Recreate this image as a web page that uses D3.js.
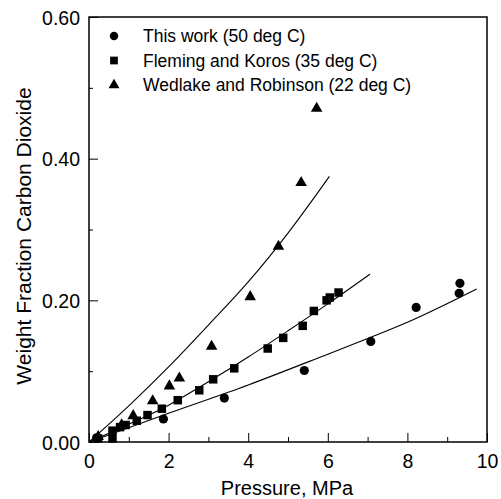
<!DOCTYPE html>
<html>
<head>
<meta charset="utf-8">
<script src="https://cdn.jsdelivr.net/npm/d3@7"></script>
<style>
  body { margin: 0; background: #fff; }
  text { font-family: "Liberation Sans", Arial, sans-serif; fill: #000; }
</style>
</head>
<body>
<div id="chart"></div>
<script>
// measured points, [pressure MPa, weight fraction]
const thisWork = [[0.19, 0.006], [1.87, 0.0325], [3.40, 0.062], [5.41, 0.101], [7.08, 0.142],
  [8.22, 0.190], [9.30, 0.210], [9.32, 0.224]];
const flemingKoros = [[0.23, 0.005], [0.59, 0.005], [0.59, 0.016], [0.78, 0.021], [0.92, 0.024],
  [1.20, 0.030], [1.47, 0.038], [1.83, 0.047], [2.23, 0.059], [2.77, 0.073], [3.12, 0.0885],
  [3.65, 0.104], [4.49, 0.132], [4.88, 0.147], [5.37, 0.164], [5.65, 0.185], [5.97, 0.200],
  [6.05, 0.204], [6.27, 0.211]];
const wedlakeRobinson = [[0.23, 0.0075], [0.82, 0.024], [1.11, 0.037], [1.60, 0.058], [2.02, 0.079],
  [2.27, 0.090], [3.08, 0.135], [4.05, 0.205], [4.76, 0.276], [5.33, 0.366], [5.72, 0.471]];

// fitted curves
const fitThisWork = [[0, 0], [2, 0.0405], [4, 0.0805], [6, 0.124], [7, 0.146], [8, 0.169], [9.74, 0.216]];
const fitFleming = [[0, 0], [1, 0.025], [2, 0.052], [3, 0.085], [4, 0.12], [5, 0.157], [6, 0.195], [7.06, 0.237]];
const fitWedlake = [[0, 0], [1, 0.051], [2, 0.106], [3, 0.165], [4, 0.226], [5, 0.295], [6.04, 0.375]];

const legendLabels = ["This work (50 deg C)", "Fleming and Koros (35 deg C)", "Wedlake and Robinson (22 deg C)"];
const xMajor = [0, 2, 4, 6, 8, 10];
const xMinor = [1, 3, 5, 7, 9];
const yMajor = [0, 0.2, 0.4, 0.6];
const yMinor = [0.1, 0.3, 0.5];

const width = 501, height = 499;
const margin = {top: 17, right: 14, bottom: 57, left: 89};

const svg = d3.select("#chart").append("svg")
    .attr("width", width)
    .attr("height", height);

const xScale = d3.scaleLinear().domain([0, 10]).range([margin.left, width - margin.right]);
const yScale = d3.scaleLinear().domain([0, 0.6]).range([height - margin.bottom, margin.top]);

// frame
svg.append("rect")
    .attr("x", xScale(0))
    .attr("y", yScale(0.6))
    .attr("width", xScale(10) - xScale(0))
    .attr("height", yScale(0) - yScale(0.6))
    .attr("fill", "none")
    .attr("stroke", "#000")
    .attr("stroke-width", 1.5);

// axes with inward ticks
const xAxis = svg.append("g")
    .attr("transform", "translate(0," + yScale(0) + ")")
    .call(d3.axisBottom(xScale).tickValues(xMajor).tickSize(-9).tickPadding(12).tickFormat(d3.format("d")));
xAxis.select(".domain").remove();

svg.append("g")
    .attr("transform", "translate(0," + yScale(0) + ")")
    .call(d3.axisBottom(xScale).tickValues(xMinor).tickSize(-5).tickFormat(""))
    .select(".domain").remove();

const yAxis = svg.append("g")
    .attr("transform", "translate(" + xScale(0) + ",0)")
    .call(d3.axisLeft(yScale).tickValues(yMajor).tickSize(-9).tickPadding(9).tickFormat(d3.format(".2f")));
yAxis.select(".domain").remove();

svg.append("g")
    .attr("transform", "translate(" + xScale(0) + ",0)")
    .call(d3.axisLeft(yScale).tickValues(yMinor).tickSize(-4).tickFormat(""))
    .select(".domain").remove();

svg.selectAll(".tick text").attr("font-size", 19.5);
svg.selectAll(".tick line").attr("stroke", "#000").attr("stroke-width", 1);
xAxis.selectAll(".tick text").attr("dy", "0.71em");
yAxis.selectAll(".tick text").attr("dy", "0.36em");

// axis titles
svg.append("text")
    .attr("x", 287)
    .attr("y", 495)
    .attr("text-anchor", "middle")
    .attr("font-size", 20)
    .text("Pressure, MPa");

svg.append("text")
    .attr("transform", "translate(31,236) rotate(-90)")
    .attr("text-anchor", "middle")
    .attr("font-size", 21)
    .text("Weight Fraction Carbon Dioxide");

// fitted curves
const line = d3.line()
    .x(d => xScale(d[0]))
    .y(d => yScale(d[1]))
    .curve(d3.curveMonotoneX);

[fitThisWork, fitFleming, fitWedlake].forEach(fit => {
    svg.append("path")
        .attr("d", line(fit))
        .attr("fill", "none")
        .attr("stroke", "#000")
        .attr("stroke-width", 1.1);
});

// markers
const symCircle = d3.symbol().type(d3.symbolCircle).size(66);
const symSquare = d3.symbol().type(d3.symbolSquare).size(72);
const symTriangle = d3.symbol().type(d3.symbolTriangle).size(58);

function drawPoints(data, sym) {
    svg.append("g")
        .selectAll("path")
        .data(data)
        .enter()
        .append("path")
            .attr("transform", d => "translate(" + xScale(d[0]) + "," + yScale(d[1]) + ")")
            .attr("d", sym)
            .attr("fill", "#000");
}
drawPoints(thisWork, symCircle);
drawPoints(flemingKoros, symSquare);
drawPoints(wedlakeRobinson, symTriangle);

// legend
const legendSyms = [
    d3.symbol().type(d3.symbolCircle).size(56),
    d3.symbol().type(d3.symbolSquare).size(60),
    d3.symbol().type(d3.symbolTriangle).size(52)
];
const legend = svg.append("g");
legendLabels.forEach((label, i) => {
    const ly = 36 + i * 24.5;
    legend.append("path")
        .attr("transform", "translate(114," + ly + ")")
        .attr("d", legendSyms[i])
        .attr("fill", "#000");
    legend.append("text")
        .attr("x", 143)
        .attr("y", ly)
        .attr("dy", "0.36em")
        .attr("font-size", 17.5)
        .text(label);
});
</script>
</body>
</html>
